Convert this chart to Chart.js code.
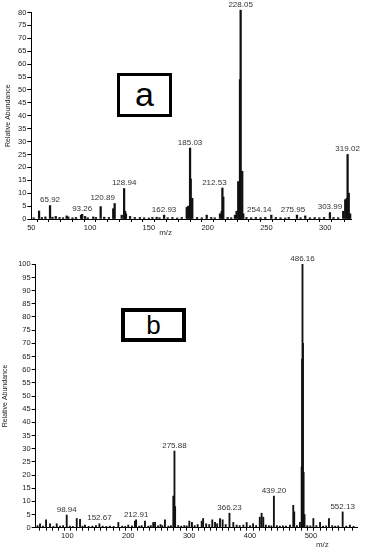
<!DOCTYPE html>
<html>
<head>
<meta charset="utf-8">
<script src="https://cdn.jsdelivr.net/npm/chart.js@4"></script>
<style>
  body { margin: 0; background: #fff; }
  .wrap { position: relative; width: 365px; height: 550px; }
  #chart-a { position: absolute; left: 0; top: 0; }
  #chart-b { position: absolute; left: 0; top: 250px; }
  .tag { position: absolute; box-sizing: border-box; border: 3px solid #000; background: #fff;
         font-family: "Liberation Sans", Arial, sans-serif; color: #000; text-align: center; }
  #tag-a { left: 117px; top: 73px; width: 55px; height: 44px; font-size: 34px; line-height: 36px; }
  #tag-b { left: 121px; top: 308px; width: 65px; height: 34px; border-width: 4px; font-size: 26px; line-height: 26px; }
</style>
</head>
<body>
<div class="wrap">
  <canvas id="chart-a" width="365" height="240"></canvas>
  <canvas id="chart-b" width="365" height="300"></canvas>
  <div class="tag" id="tag-a">a</div>
  <div class="tag" id="tag-b">b</div>
</div>
<script>
// spectrum a
const aMz = [52, 56.6, 59, 62, 65.92, 68, 70.8, 74, 77, 80.1, 81.5, 85, 88, 92.3, 93.26, 95.7, 98, 102.7, 105,
  109, 112, 116, 119.7, 120.89, 126.9, 128.94, 129.8, 130.5, 134, 138, 142.4, 146, 150, 153, 156.6, 159, 162.93,
  166, 170, 174, 178, 182.2, 183.5, 185.03, 185.6, 186.9, 191, 195, 199.2, 203, 206, 210.5, 211.9, 212.53, 213.3,
  217, 220, 223.2, 224.6, 226, 226.9, 227.5, 228.05, 229.4, 230.3, 233, 237, 241, 245, 249, 254.14, 258, 262,
  266, 269, 275.95, 279, 283, 287, 291, 295, 299, 303.99, 307, 311, 315.3, 317, 318.3, 319.02, 320, 321.2];
const aAbund = [0.5, 3.1, 0.6, 0.8, 5.2, 0.7, 1, 0.6, 0.5, 1.2, 0.8, 0.5, 0.6, 1.5, 1.8, 1, 0.5, 0.8, 0.6,
  4.8, 0.7, 0.6, 4, 6, 1.5, 11.8, 3, 2, 1, 0.6, 0.6, 0.5, 0.4, 0.6, 0.7, 0.5, 1.5,
  0.5, 0.6, 0.4, 0.6, 4.5, 5, 27.5, 15.5, 8, 0.6, 0.5, 1.5, 0.6, 0.5, 2, 3, 12, 8.5,
  0.6, 0.5, 1.5, 3, 14.5, 8, 54, 80.9, 18.5, 2, 0.6, 0.5, 0.6, 0.5, 0.6, 1.5, 0.6, 0.5,
  0.4, 0.6, 1.5, 0.5, 1.2, 0.5, 0.6, 0.5, 0.6, 2.5, 0.6, 0.5, 3, 7.5, 8, 25, 10, 2];
const aLabels = [65.92, 93.26, 120.89, 128.94, 162.93, 185.03, 212.53, 228.05, 254.14, 275.95, 303.99, 319.02];

// spectrum b
const bMz = [51, 55.1, 60, 65, 71.5, 77, 82.5, 88, 93, 98.94, 104, 109, 115.4, 120.8, 125, 129, 135, 141, 147,
  152.67, 158, 164, 170, 176, 183.7, 190, 195, 200, 206, 211, 212.91, 218, 222, 227.5, 233, 237, 241, 244, 249,
  253, 256, 260.3, 266, 270, 274, 275.88, 277, 282, 287, 292, 296, 300.3, 304.6, 309, 314, 320.6, 323, 328, 333,
  338, 342.5, 346, 350.7, 355, 360, 366.23, 372.5, 378, 383, 389, 394.5, 400, 405, 410, 416, 419, 421.8, 426, 431,
  435, 439.2, 444, 449, 454, 459, 465.6, 471, 472.6, 477, 482, 484.8, 485.5, 486.16, 487, 488, 489.5, 494, 499,
  504, 509, 515, 520, 525, 529.6, 535, 540, 545, 552.13, 558, 564, 570];
const bAbund = [0.8, 1.5, 0.6, 3, 1.5, 0.5, 1.5, 0.6, 0.8, 4.8, 0.6, 0.5, 3.5, 3.2, 0.6, 1, 0.5, 0.6, 0.8,
  1.5, 0.6, 0.5, 0.6, 0.5, 2, 0.6, 0.5, 1, 0.7, 2.5, 3, 0.6, 0.8, 2.5, 0.6, 0.8, 2, 2, 0.7,
  1.2, 0.8, 3, 0.6, 0.8, 12, 29.1, 8, 0.8, 0.6, 0.8, 0.7, 2.5, 2, 0.8, 1.2, 2.5, 3.5, 1.5, 1.2,
  3, 2, 1.5, 3.5, 3, 1.2, 5.5, 2, 1, 0.8, 1, 2, 0.8, 1.5, 0.8, 4, 5.5, 4, 1, 0.8,
  0.7, 12, 0.8, 0.6, 0.7, 0.6, 1, 8.5, 6, 0.8, 2, 23, 64, 100, 70, 21, 5, 0.8, 0.7,
  3.5, 0.8, 2, 0.6, 0.7, 3.5, 0.8, 0.6, 0.7, 6, 0.6, 1, 0.5];
const bLabels = [98.94, 152.67, 212.91, 275.88, 366.23, 439.20, 486.16, 552.13];

const tickFont = { family: 'Liberation Sans', size: 7.5 };

function toPoints(mz, abund) {
  return mz.map((m, i) => ({ x: m, y: abund[i] }));
}

// draws peak labels over the tallest bar near each labelled m/z, plus the m/z axis title
const peakLabels = {
  id: 'peakLabels',
  afterDatasetsDraw(chart, args, opts) {
    const ctx = chart.ctx;
    const xs = chart.scales.x;
    const ys = chart.scales.y;
    const pts = chart.data.datasets[0].data;
    ctx.save();
    ctx.font = '8px "Liberation Sans"';
    ctx.fillStyle = '#333';
    ctx.textAlign = 'center';
    ctx.textBaseline = 'bottom';
    opts.labels.forEach(mz => {
      let top = 0;
      pts.forEach(p => { if (Math.abs(p.x - mz) < 1 && p.y > top) top = p.y; });
      const shift = opts.shift[mz.toFixed(2)] || 0;
      ctx.fillText(mz.toFixed(2), xs.getPixelForValue(mz) + shift, ys.getPixelForValue(top) - 1.5);
    });
    ctx.textBaseline = 'middle';
    ctx.fillText('m/z', chart.chartArea.left + chart.chartArea.width * opts.titleAt, opts.titleY);
    ctx.restore();
  }
};

function makeChart(id, mz, abund, labels, cfg) {
  return new Chart(document.getElementById(id), {
    type: 'bar',
    data: {
      datasets: [{
        data: toPoints(mz, abund),
        backgroundColor: '#111',
        barThickness: cfg.bar,
        clip: false,
      }],
    },
    options: {
      responsive: false,
      animation: false,
      layout: { padding: { top: cfg.top, right: cfg.right, left: 0, bottom: 0 } },
      plugins: {
        legend: { display: false },
        tooltip: { enabled: false },
        peakLabels: { labels, shift: cfg.shift, titleAt: cfg.titleAt, titleY: cfg.titleY },
      },
      scales: {
        x: {
          type: 'linear',
          min: cfg.xMin,
          max: cfg.xMax,
          offset: false,
          border: { color: '#000', width: 1 },
          grid: { drawOnChartArea: false, tickLength: 3, color: '#000' },
          ticks: {
            stepSize: 10,
            autoSkip: false,
            maxRotation: 0,
            padding: 1,
            color: '#222',
            font: tickFont,
            callback: v => (v % cfg.xMajor === 0 ? v : ''),
          },
          afterFit: s => { s.height = cfg.xHeight; },
        },
        y: {
          min: 0,
          max: cfg.yMax,
          border: { color: '#000', width: 1 },
          grid: { drawOnChartArea: false, tickLength: 4, color: '#000' },
          ticks: { stepSize: 5, autoSkip: false, padding: 1, color: '#222', font: tickFont },
          title: {
            display: true,
            text: 'Relative Abundance',
            color: '#222',
            font: { family: 'Liberation Sans', size: 7 },
            padding: { top: cfg.titlePad, bottom: 0 },
          },
          afterFit: s => { s.width = cfg.yWidth; },
        },
      },
    },
    plugins: [peakLabels],
  });
}

makeChart('chart-a', aMz, aAbund, aLabels, {
  bar: 1.6, top: 12.5, right: 13.9, xMin: 50, xMax: 322, xMajor: 50, xHeight: 21,
  yMax: 80, yWidth: 31.3, titlePad: 4, titleAt: 0.42, titleY: 233,
  shift: { '120.89': -12, '212.53': -8, '254.14': -12, '275.95': -4 },
});
makeChart('chart-b', bMz, bAbund, bLabels, {
  bar: 1.2, top: 14.3, right: 7.2, xMin: 48, xMax: 577, xMajor: 100, xHeight: 22.3,
  yMax: 100, yWidth: 35.7, titlePad: 1, titleAt: 0.89, titleY: 295,
  shift: {},
});
</script>
</body>
</html>
